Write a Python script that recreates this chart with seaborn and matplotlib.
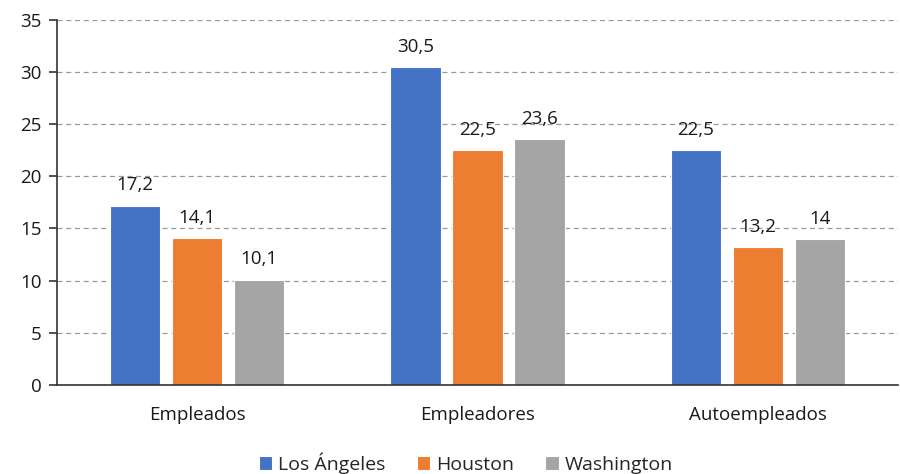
import seaborn as sns
import pandas as pd
import matplotlib.pyplot as plt

categorias = ["Empleados", "Empleadores", "Autoempleados"]
ciudades = ["Los Ángeles", "Houston", "Washington"]
los_angeles = [17.2, 30.5, 22.5]
houston = [14.1, 22.5, 13.2]
washington = [10.1, 23.6, 14.0]
colores = ["#4472C4", "#ED7D31", "#A5A5A5"]

df = pd.DataFrame({
    "categoria": categorias * 3,
    "ciudad": [c for c in ciudades for _ in categorias],
    "valor": los_angeles + houston + washington,
})

sns.set_style("white")
plt.rcParams["font.family"] = ["Open Sans", "DejaVu Sans"]

fig = plt.figure(figsize=(9, 4.74), dpi=100)
ax = fig.add_axes([0.063, 0.188, 0.935, 0.77])

sns.barplot(data=df, x="categoria", y="valor", hue="ciudad", order=categorias,
            hue_order=ciudades, palette=colores, width=0.663, gap=0.19,
            saturation=1, edgecolor="white", linewidth=0.8, ax=ax)

for cont in ax.containers:
    labels = [f"{v:g}".replace(".", ",") for v in cont.datavalues]
    ax.bar_label(cont, labels=labels, padding=8, fontsize=13.5, color="#1a1a1a")

ax.set_ylim(0, 35)
ax.set_xlim(-0.5, 2.5)
ax.set_yticks(range(0, 36, 5))
ax.yaxis.grid(True, linestyle=(0, (4, 3)), color="#999999", linewidth=0.9)
ax.set_axisbelow(True)
for s in ["top", "right"]:
    ax.spines[s].set_visible(False)
for s in ["left", "bottom"]:
    ax.spines[s].set_color("#333333")
    ax.spines[s].set_linewidth(1.2)

ax.set_xticks([-0.5, 0.5, 1.5, 2.5], minor=True)
ax.tick_params(axis="x", which="major", length=0, pad=15, labelsize=13.5,
               labelcolor="#1a1a1a")
ax.tick_params(axis="x", which="minor", length=6, color="#333333", width=1.2)
ax.tick_params(axis="y", left=True, length=6, color="#333333", width=1.2,
               labelsize=13.5, pad=5, labelcolor="#1a1a1a")
ax.set_xlabel("")
ax.set_ylabel("")

ax.legend(loc="center", bbox_to_anchor=(0.486, -0.215), ncol=3, frameon=False,
          fontsize=14, handlelength=0.7, handleheight=0.7, handletextpad=0.3,
          columnspacing=1.6, borderpad=0)

fig.savefig("out.png", dpi=100)
